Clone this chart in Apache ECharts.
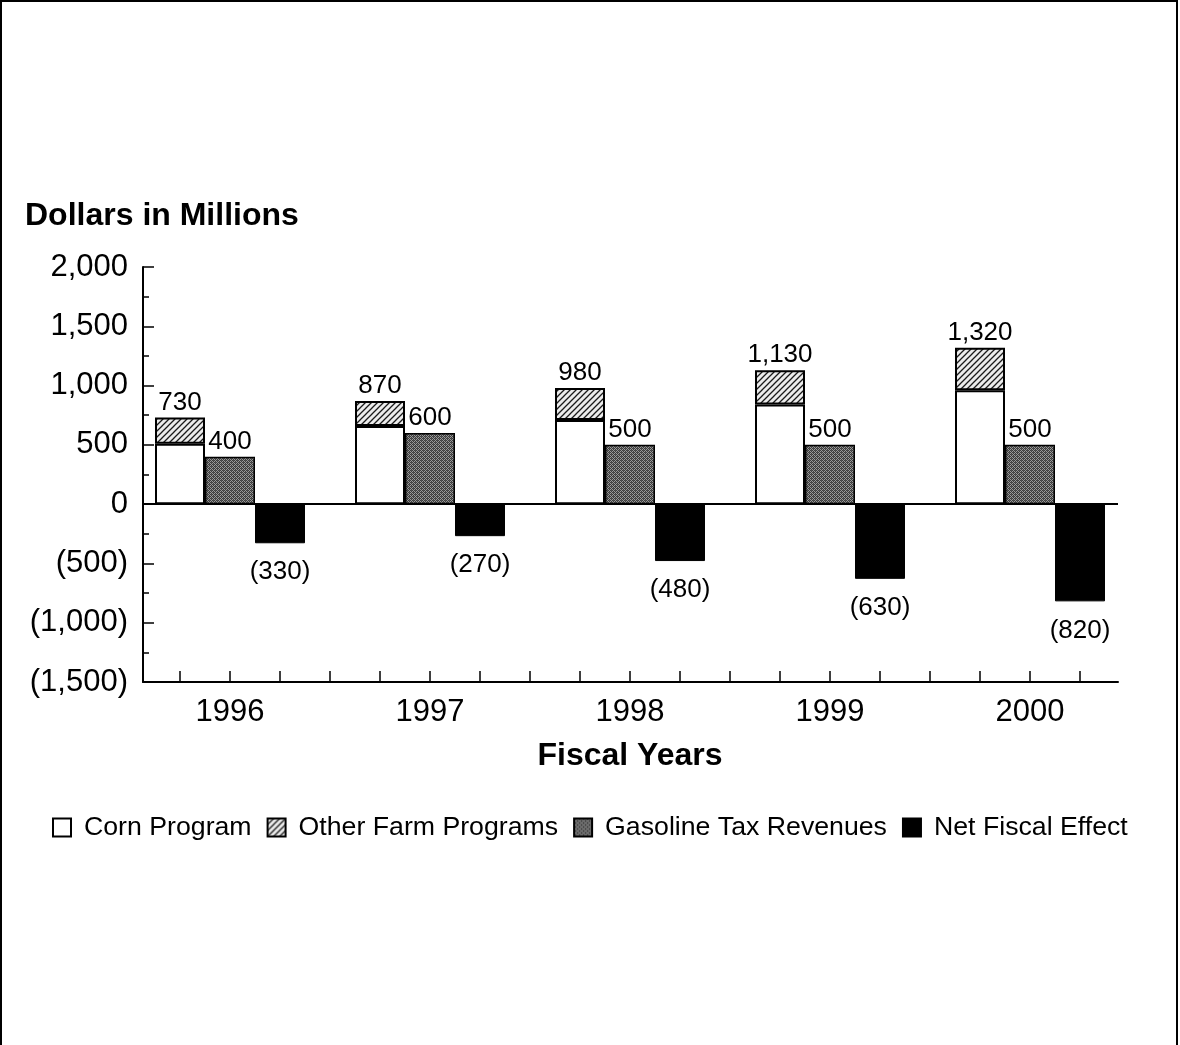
<!DOCTYPE html>
<html>
<head>
<meta charset="utf-8">
<script src="https://cdn.jsdelivr.net/npm/echarts@6/dist/echarts.min.js"></script>
<style>
html,body{margin:0;padding:0;background:#fff;}
#main{position:absolute;left:0;top:0;width:1180px;height:1045px;}
#frame{position:absolute;left:0;top:0;width:1174px;height:1045px;border-left:2px solid #000;border-top:2px solid #000;border-right:2px solid #000;box-sizing:content-box;pointer-events:none;}
</style>
</head>
<body>
<div id="main"></div>
<div id="frame"></div>
<script>
const years = ['1996', '1997', '1998', '1999', '2000'];
const cornProgram = [510, 660, 710, 840, 960];
const otherFarmPrograms = [220, 210, 270, 290, 360];
const gasolineTaxRevenues = [400, 600, 500, 500, 500];
const netFiscalEffect = [-330, -270, -480, -630, -820];
const yTickValues = [-1500, -1000, -500, 0, 500, 1000, 1500, 2000];
const seriesNames = ['Corn Program', 'Other Farm Programs', 'Gasoline Tax Revenues', 'Net Fiscal Effect'];

const FONT = "'Liberation Sans', Arial, Helvetica, sans-serif";
const SLOTS = years.length * 4 - 1;
const slotNames = Array.from({length: SLOTS}, (_, i) => 's' + i);
function placed(values, offset) {
  const arr = new Array(SLOTS).fill('-');
  values.forEach((v, i) => { arr[4 * i + offset] = v; });
  return arr;
}
function fmtNum(v) {
  const s = Math.abs(v).toLocaleString('en-US');
  return v < 0 ? '(' + s + ')' : s;
}
function hatchPattern() {
  const c = document.createElement('canvas');
  c.width = 6; c.height = 6;
  const g = c.getContext('2d');
  g.fillStyle = '#ececec'; g.fillRect(0, 0, 6, 6);
  g.strokeStyle = '#1a1a1a'; g.lineWidth = 1.3;
  g.beginPath();
  g.moveTo(-1, 7); g.lineTo(7, -1);
  g.moveTo(-4, 4); g.lineTo(4, -4);
  g.moveTo(2, 10); g.lineTo(10, 2);
  g.stroke();
  return c;
}
function stipplePattern() {
  const c = document.createElement('canvas');
  c.width = 4; c.height = 4;
  const g = c.getContext('2d');
  g.fillStyle = '#9a9a9a'; g.fillRect(0, 0, 4, 4);
  g.fillStyle = '#3c3c3c';
  [[0,0],[2,0],[1,1],[3,1],[0,2],[2,2],[1,3],[3,3]].forEach(p => g.fillRect(p[0], p[1], 1, 1));
  g.fillStyle = '#555';
  g.fillRect(1, 0, 1, 1); g.fillRect(3, 2, 1, 1);
  return c;
}

const chart = echarts.init(document.getElementById('main'), null, {renderer: 'canvas'});
const gridTop = 267, gridBottom = 1045 - 682;
const labelBase = {fontFamily: FONT, fontSize: 26, color: '#000'};

const option = {
  backgroundColor: '#fff',
  animation: false,
  textStyle: {fontFamily: FONT, color: '#000'},
  title: {
    text: 'Dollars in Millions', left: 25, top: 200, padding: 0,
    textStyle: {fontFamily: FONT, fontSize: 32, fontWeight: 'bold', color: '#000'}
  },
  legend: {
    left: 52, top: 814, padding: 0, itemWidth: 18, itemHeight: 18, itemGap: 15, icon: 'rect',
    data: seriesNames,
    textStyle: {fontFamily: FONT, fontSize: 26.7, color: '#000', padding: [0, 0, 0, 8]}
  },
  grid: [
    {left: 143, right: 1180 - 1118, top: gridTop, bottom: gridBottom},
    {left: 155, right: 1180 - 1105, top: gridTop, bottom: gridBottom}
  ],
  xAxis: [
    {
      gridIndex: 0, type: 'value', min: 0, max: 1, position: 'bottom',
      axisLine: {show: true, onZero: false, lineStyle: {color: '#000', width: 2}},
      axisTick: {show: false}, axisLabel: {show: false}, splitLine: {show: false}
    },
    {
      gridIndex: 1, type: 'category', data: slotNames, position: 'bottom',
      axisLine: {show: false, onZero: false},
      axisTick: {show: true, inside: true, alignWithLabel: true, interval: 0, length: 11, lineStyle: {color: '#000', width: 1.5}},
      axisLabel: {
        interval: 0, margin: 15, fontFamily: FONT, fontSize: 31, color: '#000',
        formatter: (v, idx) => (idx % 4 === 1 ? years[(idx - 1) / 4] : '')
      },
      name: 'Fiscal Years', nameLocation: 'middle', nameGap: 58,
      nameTextStyle: {fontFamily: FONT, fontSize: 32, fontWeight: 'bold', color: '#000'}
    }
  ],
  yAxis: [
    {
      gridIndex: 0, type: 'value', min: -1500, max: 2000, interval: 500,
      axisLine: {show: true, lineStyle: {color: '#000', width: 2}},
      axisTick: {show: true, inside: true, length: 11, lineStyle: {color: '#000', width: 1.5}},
      minorTick: {show: true, splitNumber: 2, length: 6, lineStyle: {color: '#000', width: 1.5}},
      axisLabel: {margin: 15, fontFamily: FONT, fontSize: 31, color: '#000', formatter: v => fmtNum(v)},
      splitLine: {show: true, lineStyle: {width: 2, color: yTickValues.map(v => (v === 0 ? '#000' : 'rgba(0,0,0,0)'))}}
    },
    {
      gridIndex: 1, type: 'value', min: -1500, max: 2000, interval: 500, show: false
    }
  ],
  series: [
    {
      name: seriesNames[0], type: 'bar', xAxisIndex: 1, yAxisIndex: 1, stack: 'all',
      barWidth: '100%', barCategoryGap: '0%',
      data: placed(cornProgram, 0),
      itemStyle: {color: '#fff', borderColor: '#000', borderWidth: 2}
    },
    {
      name: seriesNames[1], type: 'bar', xAxisIndex: 1, yAxisIndex: 1, stack: 'all',
      barWidth: '100%',
      data: placed(otherFarmPrograms, 0),
      itemStyle: {color: {image: hatchPattern(), repeat: 'repeat'}, borderColor: '#000', borderWidth: 2},
      label: Object.assign({
        show: true, position: 'top', distance: 2,
        formatter: p => fmtNum(cornProgram[p.dataIndex / 4] + otherFarmPrograms[p.dataIndex / 4])
      }, labelBase)
    },
    {
      name: seriesNames[2], type: 'bar', xAxisIndex: 1, yAxisIndex: 1, stack: 'all',
      barWidth: '100%',
      data: placed(gasolineTaxRevenues, 1),
      itemStyle: {color: {image: stipplePattern(), repeat: 'repeat'}, borderColor: '#000', borderWidth: 1.5},
      label: Object.assign({show: true, position: 'top', distance: 2, formatter: p => fmtNum(p.value)}, labelBase)
    },
    {
      name: seriesNames[3], type: 'bar', xAxisIndex: 1, yAxisIndex: 1, stack: 'all',
      barWidth: '100%',
      data: placed(netFiscalEffect, 2),
      itemStyle: {color: '#000', borderColor: '#000', borderWidth: 1},
      label: Object.assign({show: true, position: 'bottom', distance: 16, formatter: p => fmtNum(p.value)}, labelBase)
    }
  ]
};
chart.setOption(option);
</script>
</body>
</html>
